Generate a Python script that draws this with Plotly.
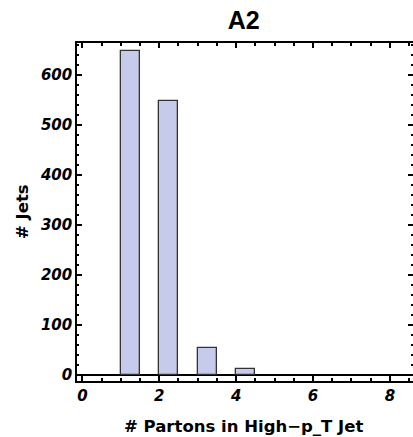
import plotly.graph_objects as go

partons = [1, 2, 3, 4]
jets = [648, 549, 55, 13]

title_text = "A2"
x_label = "# Partons in High\u2212p_T Jet"
y_label = "# Jets"

tick_font = dict(family="DejaVu Sans", size=15, color="black", weight="bold", style="italic")

fig = go.Figure()
fig.add_trace(go.Bar(
    x=partons, y=jets, width=0.5, offset=0,
    marker=dict(color="#c6cbeb", line=dict(color="#333333", width=1.3)),
    showlegend=False,
))
# invisible trace for mirrored top / right ticks
fig.add_trace(go.Scatter(x=[partons[0]], y=[jets[0]], xaxis="x2", yaxis="y2", mode="markers",
                         marker=dict(opacity=0), showlegend=False, hoverinfo="skip"))

xrange = [-0.14, 8.6]
yrange = [-12, 664]
tick_style = dict(ticks="inside", ticklen=5, tickwidth=2, tickcolor="black")
fig.update_layout(
    width=413, height=437,
    margin=dict(l=77, r=0, t=43, b=56),
    paper_bgcolor="white", plot_bgcolor="white",
    bargap=0,
    xaxis=dict(
        range=xrange, dtick=2, tick0=0,
        showgrid=False, zeroline=False,
        showline=True, linecolor="black", linewidth=1.5,
        minor=dict(dtick=0.5, ticks="inside", ticklen=3, tickwidth=2, tickcolor="black"),
        tickfont=tick_font, **tick_style,
    ),
    xaxis2=dict(
        range=xrange, dtick=2, tick0=0, overlaying="x", side="top",
        showgrid=False, zeroline=False, showticklabels=False,
        showline=True, linecolor="black", linewidth=1.5,
        minor=dict(dtick=0.5, ticks="inside", ticklen=3, tickwidth=2, tickcolor="black"),
        **tick_style,
    ),
    yaxis=dict(
        range=yrange, dtick=100, tick0=0,
        showgrid=False, zeroline=True, zerolinecolor="black", zerolinewidth=2,
        showline=True, linecolor="black", linewidth=1.5,
        minor=dict(dtick=20, ticks="inside", ticklen=2, tickwidth=1.5, tickcolor="black"),
        tickfont=tick_font, **tick_style,
    ),
    yaxis2=dict(
        range=yrange, dtick=100, tick0=0, overlaying="y", side="right",
        showgrid=False, zeroline=False, showline=False, showticklabels=False,
        minor=dict(dtick=20, ticks="inside", ticklen=2, tickwidth=1.5, tickcolor="black"),
        **tick_style,
    ),
    title=dict(text=title_text, x=0.59, xref="container", y=1 - 20 / 437, yref="container",
               xanchor="center", yanchor="middle",
               font=dict(family="Liberation Sans", size=25, color="black", weight="bold")),
    annotations=[
        dict(text=x_label, xref="paper", yref="paper", x=0.5, y=0, yanchor="middle",
             xanchor="center", yshift=-45, xshift=-2, showarrow=False,
             font=dict(family="DejaVu Sans", size=16.5, color="black", weight="bold")),
        dict(text=y_label, xref="paper", yref="paper", x=0, y=0.5, xanchor="center",
             yanchor="middle", xshift=-55, textangle=-90, showarrow=False,
             font=dict(family="DejaVu Sans", size=16.5, color="black", weight="bold")),
    ],
)

fig.write_html("out.html")
